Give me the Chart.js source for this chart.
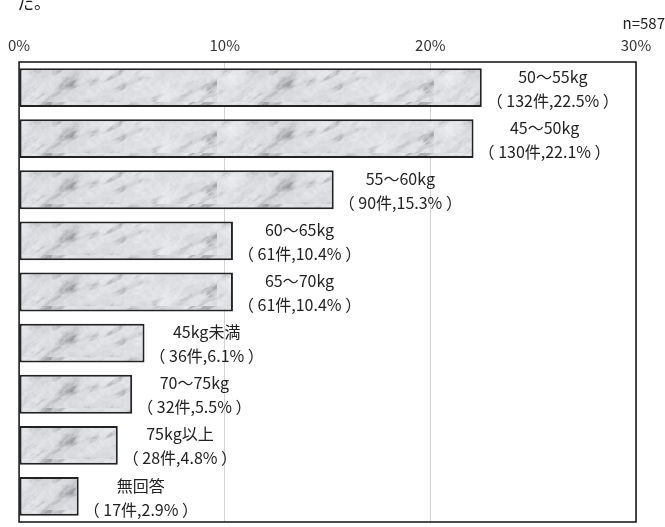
<!DOCTYPE html>
<html>
<head>
<meta charset="utf-8">
<script src="https://cdn.jsdelivr.net/npm/chart.js@4"></script>
<style>
  html, body { margin: 0; padding: 0; background: #fff; }
  #wrap { position: relative; width: 665px; height: 527px; overflow: hidden; }
  #chart { position: absolute; left: 0; top: 0; }
  .note { position: absolute; font-family: "Noto Sans CJK JP", sans-serif; color: #222; }
</style>
</head>
<body>
<div id="wrap">
  <canvas id="chart" width="665" height="527"></canvas>
  <div class="note" style="left:17px; top:-11px; font-size:17px;">た。</div>
  <div class="note" style="right:0px; top:12px; font-size:15px; font-family:'Liberation Sans Narrow','Noto Sans CJK JP',sans-serif;">n=587</div>
</div>
<script>
'use strict';

const categories = ['50〜55kg', '45〜50kg', '55〜60kg', '60〜65kg', '65〜70kg', '45kg未満', '70〜75kg', '75kg以上', '無回答'];
const counts = [132, 130, 90, 61, 61, 36, 32, 28, 17];
const percents = [22.5, 22.1, 15.3, 10.4, 10.4, 6.1, 5.5, 4.8, 2.9];
const tickValues = [0, 10, 20, 30];

// soft grey marble texture for the bars
function makeMarble() {
    const W = 217, H = 51;
    const c = document.createElement('canvas');
    c.width = W; c.height = H;
    const g = c.getContext('2d');
    const img = g.createImageData(W, H);

    function hash(x, y, s) {
        let h = (x * 374761393 + y * 668265263 + s * 982451653) | 0;
        h = Math.imul(h ^ (h >>> 13), 1274126177);
        return ((h ^ (h >>> 16)) >>> 0) / 4294967295;
    }
    function noise(x, y, s) {
        const x0 = Math.floor(x), y0 = Math.floor(y);
        const tx = x - x0, ty = y - y0;
        const sx = tx * tx * (3 - 2 * tx), sy = ty * ty * (3 - 2 * ty);
        const a = hash(x0, y0, s), b = hash(x0 + 1, y0, s);
        const cc = hash(x0, y0 + 1, s), d = hash(x0 + 1, y0 + 1, s);
        return a + (b - a) * sx + (cc - a) * sy + (a - b - cc + d) * sx * sy;
    }
    function fbm(x, y, s) {
        let v = 0, amp = 0.5, f = 1;
        for (let o = 0; o < 4; o++) {
            v += amp * noise(x * f, y * f, s + o);
            amp *= 0.5; f *= 2;
        }
        return v / 0.9375;
    }
    const ang = 0.6, ca = Math.cos(ang), sa = Math.sin(ang);
    for (let y = 0; y < H; y++) {
        for (let x = 0; x < W; x++) {
            const q = x * ca - y * sa;
            const p = x * sa + y * ca;
            const streak = fbm(q / 20, p / 7, 11);
            const blot = fbm(q / 28, p / 14, 3);
            const fine = noise(x / 2.5, y / 2.5, 29);
            let val = 242 - blot * 36 + (fine - 0.5) * 10;
            const t = Math.min(1, Math.max(0, (streak - 0.5) / 0.32));
            val -= t * t * 58;
            val = Math.max(145, Math.min(250, val));
            const i = (y * W + x) * 4;
            img.data[i] = val - 3;
            img.data[i + 1] = val - 2;
            img.data[i + 2] = val + 2;
            img.data[i + 3] = 255;
        }
    }
    g.putImageData(img, 0, 0);
    return g.createPattern(c, 'repeat');
}

const labelPlugin = {
    id: 'barLabels',
    afterDatasetsDraw(chart) {
        const ctx = chart.ctx;
        const meta = chart.getDatasetMeta(0);
        ctx.save();
        ctx.fillStyle = '#222';
        ctx.textAlign = 'center';
        ctx.textBaseline = 'middle';
        ctx.font = '16px "Noto Sans CJK JP", sans-serif';
        meta.data.forEach((bar, i) => {
            const line1 = categories[i];
            const line2 = '（ ' + counts[i] + '件,' + percents[i].toFixed(1) + '% ）';
            const w = ctx.measureText(line2).width;
            const cx = bar.x + 5 + w / 2;
            ctx.fillText(line1, cx, bar.y - 11);
            ctx.fillText(line2, cx, bar.y + 13);
        });
        ctx.restore();
    }
};

const boxPlugin = {
    id: 'box',
    afterDraw(chart) {
        const a = chart.chartArea;
        const ctx = chart.ctx;
        ctx.save();
        ctx.strokeStyle = '#111';
        ctx.lineWidth = 1.5;
        ctx.strokeRect(a.left, a.top, a.right - a.left, a.bottom - a.top);
        ctx.restore();
    }
};

new Chart(document.getElementById('chart').getContext('2d'), {
    type: 'bar',
    data: {
        labels: categories,
        datasets: [{
            data: percents,
            backgroundColor: makeMarble(),
            borderColor: '#222',
            borderWidth: 2,
            borderSkipped: false,
            barPercentage: 0.76,
            categoryPercentage: 1
        }]
    },
    options: {
        indexAxis: 'y',
        responsive: false,
        animation: false,
        layout: { padding: { left: 17, right: 29, top: 37, bottom: 5 } },
        plugins: {
            legend: { display: false },
            tooltip: { enabled: false }
        },
        scales: {
            x: {
                position: 'top',
                min: 0,
                max: 30,
                afterBuildTicks: s => { s.ticks = tickValues.map(v => ({ value: v })); },
                afterFit: s => { s.height = 25; },
                ticks: {
                    callback: v => v + '%',
                    color: '#333',
                    padding: 8,
                    font: { family: '"Liberation Sans Narrow", "Noto Sans CJK JP", sans-serif', size: 15 }
                },
                grid: { color: '#d4d4d4', drawTicks: false, lineWidth: 1 },
                border: { display: false }
            },
            y: {
                display: false
            }
        }
    },
    plugins: [labelPlugin, boxPlugin]
});
</script>
</body>
</html>
